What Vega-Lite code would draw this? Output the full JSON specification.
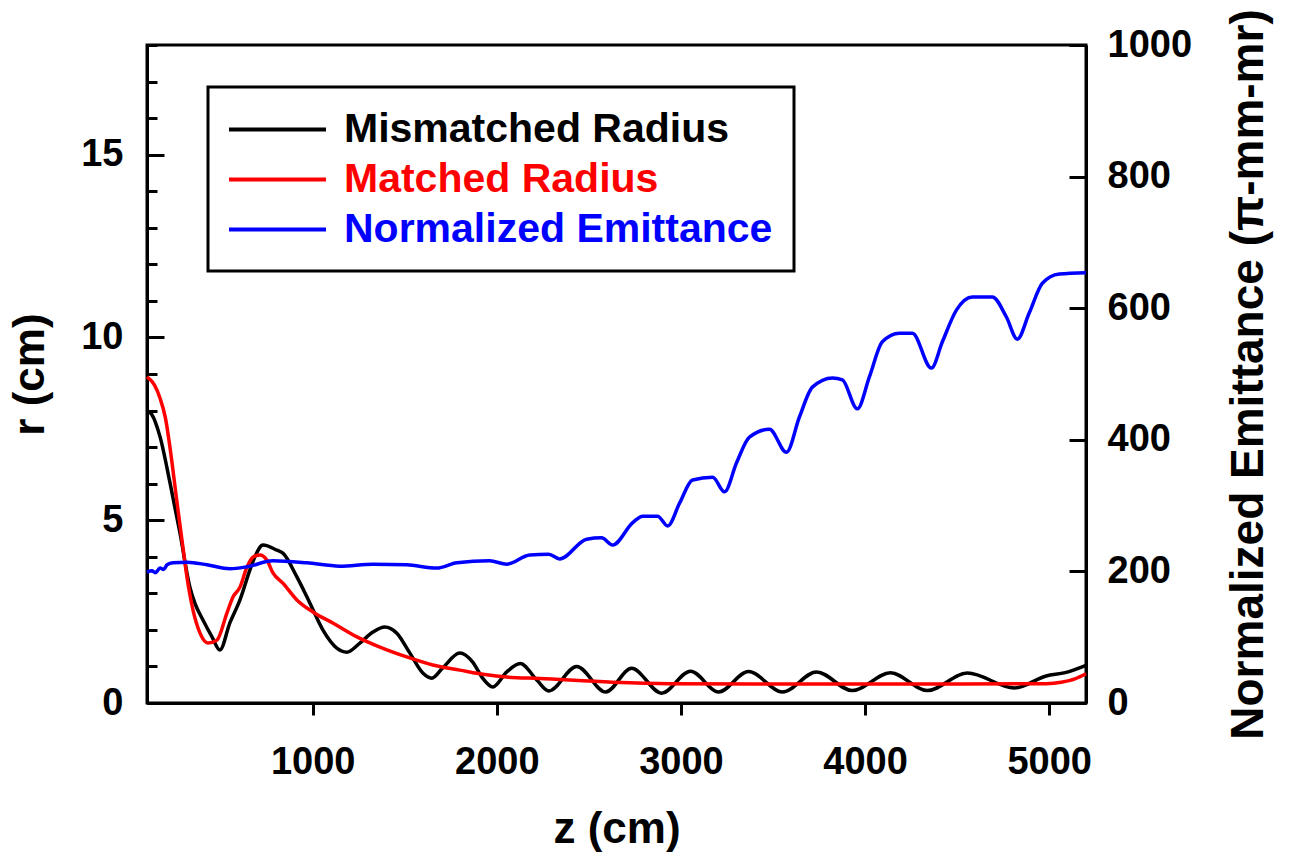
{
  "$schema": "https://vega.github.io/schema/vega-lite/v6.json",
  "autosize": "none",
  "width": 939,
  "height": 658,
  "padding": {"left": 147, "top": 45, "right": 205, "bottom": 154},
  "background": "white",
  "config": {
    "font": "Liberation Sans",
    "view": {"stroke": "black", "strokeWidth": 3},
    "axis": {
      "grid": false,
      "domainColor": "black",
      "domainWidth": 3,
      "tickColor": "black",
      "tickWidth": 3,
      "labelFont": "Liberation Sans",
      "labelFontWeight": "bold",
      "labelFontSize": 38,
      "labelColor": "black",
      "titleFont": "Liberation Sans",
      "titleFontWeight": "bold",
      "titleFontSize": 44,
      "titleColor": "black"
    }
  },
  "data": {
    "values": [
      {"series": "Mismatched Radius", "z": 100, "v": 8.0},
      {"series": "Mismatched Radius", "z": 125, "v": 7.9},
      {"series": "Mismatched Radius", "z": 171, "v": 7.28},
      {"series": "Mismatched Radius", "z": 225, "v": 6.02},
      {"series": "Mismatched Radius", "z": 279, "v": 4.65},
      {"series": "Mismatched Radius", "z": 333, "v": 3.17},
      {"series": "Mismatched Radius", "z": 360, "v": 2.73},
      {"series": "Mismatched Radius", "z": 404, "v": 2.27},
      {"series": "Mismatched Radius", "z": 453, "v": 1.81},
      {"series": "Mismatched Radius", "z": 496, "v": 1.45},
      {"series": "Mismatched Radius", "z": 550, "v": 2.19},
      {"series": "Mismatched Radius", "z": 605, "v": 2.82},
      {"series": "Mismatched Radius", "z": 659, "v": 3.64},
      {"series": "Mismatched Radius", "z": 686, "v": 4.0},
      {"series": "Mismatched Radius", "z": 730, "v": 4.32},
      {"series": "Mismatched Radius", "z": 806, "v": 4.18},
      {"series": "Mismatched Radius", "z": 838, "v": 4.1},
      {"series": "Mismatched Radius", "z": 914, "v": 3.45},
      {"series": "Mismatched Radius", "z": 985, "v": 2.73},
      {"series": "Mismatched Radius", "z": 1055, "v": 2.0},
      {"series": "Mismatched Radius", "z": 1131, "v": 1.5},
      {"series": "Mismatched Radius", "z": 1185, "v": 1.39},
      {"series": "Mismatched Radius", "z": 1256, "v": 1.64},
      {"series": "Mismatched Radius", "z": 1327, "v": 1.94},
      {"series": "Mismatched Radius", "z": 1392, "v": 2.08},
      {"series": "Mismatched Radius", "z": 1457, "v": 1.91},
      {"series": "Mismatched Radius", "z": 1527, "v": 1.37},
      {"series": "Mismatched Radius", "z": 1598, "v": 0.82},
      {"series": "Mismatched Radius", "z": 1647, "v": 0.68},
      {"series": "Mismatched Radius", "z": 1706, "v": 0.96},
      {"series": "Mismatched Radius", "z": 1799, "v": 1.37},
      {"series": "Mismatched Radius", "z": 1869, "v": 1.12},
      {"series": "Mismatched Radius", "z": 1923, "v": 0.68},
      {"series": "Mismatched Radius", "z": 1978, "v": 0.44},
      {"series": "Mismatched Radius", "z": 2054, "v": 0.85},
      {"series": "Mismatched Radius", "z": 2127, "v": 1.08},
      {"series": "Mismatched Radius", "z": 2217, "v": 0.63},
      {"series": "Mismatched Radius", "z": 2282, "v": 0.33},
      {"series": "Mismatched Radius", "z": 2434, "v": 1.0},
      {"series": "Mismatched Radius", "z": 2591, "v": 0.3},
      {"series": "Mismatched Radius", "z": 2732, "v": 0.95},
      {"series": "Mismatched Radius", "z": 2895, "v": 0.27},
      {"series": "Mismatched Radius", "z": 3052, "v": 0.87},
      {"series": "Mismatched Radius", "z": 3204, "v": 0.3},
      {"series": "Mismatched Radius", "z": 3367, "v": 0.86},
      {"series": "Mismatched Radius", "z": 3552, "v": 0.3},
      {"series": "Mismatched Radius", "z": 3736, "v": 0.85},
      {"series": "Mismatched Radius", "z": 3931, "v": 0.34},
      {"series": "Mismatched Radius", "z": 4138, "v": 0.83},
      {"series": "Mismatched Radius", "z": 4338, "v": 0.34},
      {"series": "Mismatched Radius", "z": 4556, "v": 0.82},
      {"series": "Mismatched Radius", "z": 4811, "v": 0.41},
      {"series": "Mismatched Radius", "z": 4984, "v": 0.74},
      {"series": "Mismatched Radius", "z": 5087, "v": 0.83},
      {"series": "Mismatched Radius", "z": 5200, "v": 1.03},

      {"series": "Matched Radius", "z": 100, "v": 8.92},
      {"series": "Matched Radius", "z": 140, "v": 8.7},
      {"series": "Matched Radius", "z": 170, "v": 8.35},
      {"series": "Matched Radius", "z": 200, "v": 7.8},
      {"series": "Matched Radius", "z": 230, "v": 6.8},
      {"series": "Matched Radius", "z": 260, "v": 5.6},
      {"series": "Matched Radius", "z": 290, "v": 4.45},
      {"series": "Matched Radius", "z": 317, "v": 3.45},
      {"series": "Matched Radius", "z": 350, "v": 2.54},
      {"series": "Matched Radius", "z": 388, "v": 1.91},
      {"series": "Matched Radius", "z": 431, "v": 1.64},
      {"series": "Matched Radius", "z": 480, "v": 1.72},
      {"series": "Matched Radius", "z": 534, "v": 2.46},
      {"series": "Matched Radius", "z": 567, "v": 2.9},
      {"series": "Matched Radius", "z": 605, "v": 3.17},
      {"series": "Matched Radius", "z": 643, "v": 3.72},
      {"series": "Matched Radius", "z": 675, "v": 3.99},
      {"series": "Matched Radius", "z": 713, "v": 4.05},
      {"series": "Matched Radius", "z": 751, "v": 3.91},
      {"series": "Matched Radius", "z": 784, "v": 3.56},
      {"series": "Matched Radius", "z": 838, "v": 3.28},
      {"series": "Matched Radius", "z": 914, "v": 2.82},
      {"series": "Matched Radius", "z": 1001, "v": 2.49},
      {"series": "Matched Radius", "z": 1109, "v": 2.19},
      {"series": "Matched Radius", "z": 1240, "v": 1.81},
      {"series": "Matched Radius", "z": 1365, "v": 1.53},
      {"series": "Matched Radius", "z": 1511, "v": 1.26},
      {"series": "Matched Radius", "z": 1652, "v": 1.04},
      {"series": "Matched Radius", "z": 1799, "v": 0.9},
      {"series": "Matched Radius", "z": 1945, "v": 0.77},
      {"series": "Matched Radius", "z": 2054, "v": 0.71},
      {"series": "Matched Radius", "z": 2233, "v": 0.67},
      {"series": "Matched Radius", "z": 2629, "v": 0.57},
      {"series": "Matched Radius", "z": 2938, "v": 0.53},
      {"series": "Matched Radius", "z": 3448, "v": 0.52},
      {"series": "Matched Radius", "z": 3950, "v": 0.52},
      {"series": "Matched Radius", "z": 4500, "v": 0.52},
      {"series": "Matched Radius", "z": 4984, "v": 0.53},
      {"series": "Matched Radius", "z": 5066, "v": 0.57},
      {"series": "Matched Radius", "z": 5140, "v": 0.66},
      {"series": "Matched Radius", "z": 5200, "v": 0.8},

      {"series": "Normalized Emittance", "z": 100, "v": 199},
      {"series": "Normalized Emittance", "z": 127, "v": 201},
      {"series": "Normalized Emittance", "z": 145, "v": 198},
      {"series": "Normalized Emittance", "z": 171, "v": 205},
      {"series": "Normalized Emittance", "z": 190, "v": 203},
      {"series": "Normalized Emittance", "z": 209, "v": 210},
      {"series": "Normalized Emittance", "z": 241, "v": 213},
      {"series": "Normalized Emittance", "z": 317, "v": 214},
      {"series": "Normalized Emittance", "z": 426, "v": 210},
      {"series": "Normalized Emittance", "z": 550, "v": 204},
      {"series": "Normalized Emittance", "z": 643, "v": 207},
      {"series": "Normalized Emittance", "z": 784, "v": 216},
      {"series": "Normalized Emittance", "z": 968, "v": 213},
      {"series": "Normalized Emittance", "z": 1147, "v": 208},
      {"series": "Normalized Emittance", "z": 1327, "v": 211},
      {"series": "Normalized Emittance", "z": 1511, "v": 210},
      {"series": "Normalized Emittance", "z": 1674, "v": 205},
      {"series": "Normalized Emittance", "z": 1783, "v": 213},
      {"series": "Normalized Emittance", "z": 1961, "v": 216},
      {"series": "Normalized Emittance", "z": 2054, "v": 211},
      {"series": "Normalized Emittance", "z": 2179, "v": 225},
      {"series": "Normalized Emittance", "z": 2282, "v": 226},
      {"series": "Normalized Emittance", "z": 2341, "v": 219},
      {"series": "Normalized Emittance", "z": 2488, "v": 249},
      {"series": "Normalized Emittance", "z": 2569, "v": 251},
      {"series": "Normalized Emittance", "z": 2629, "v": 240},
      {"series": "Normalized Emittance", "z": 2738, "v": 274},
      {"series": "Normalized Emittance", "z": 2792, "v": 284},
      {"series": "Normalized Emittance", "z": 2873, "v": 284},
      {"series": "Normalized Emittance", "z": 2928, "v": 269},
      {"series": "Normalized Emittance", "z": 2993, "v": 304},
      {"series": "Normalized Emittance", "z": 3063, "v": 339},
      {"series": "Normalized Emittance", "z": 3172, "v": 343},
      {"series": "Normalized Emittance", "z": 3237, "v": 321},
      {"series": "Normalized Emittance", "z": 3302, "v": 365},
      {"series": "Normalized Emittance", "z": 3372, "v": 404},
      {"series": "Normalized Emittance", "z": 3481, "v": 416},
      {"series": "Normalized Emittance", "z": 3573, "v": 381},
      {"series": "Normalized Emittance", "z": 3644, "v": 435},
      {"series": "Normalized Emittance", "z": 3714, "v": 480},
      {"series": "Normalized Emittance", "z": 3823, "v": 494},
      {"series": "Normalized Emittance", "z": 3877, "v": 491},
      {"series": "Normalized Emittance", "z": 3958, "v": 447},
      {"series": "Normalized Emittance", "z": 4024, "v": 496},
      {"series": "Normalized Emittance", "z": 4094, "v": 549},
      {"series": "Normalized Emittance", "z": 4187, "v": 562},
      {"series": "Normalized Emittance", "z": 4257, "v": 562},
      {"series": "Normalized Emittance", "z": 4360, "v": 509},
      {"series": "Normalized Emittance", "z": 4420, "v": 549},
      {"series": "Normalized Emittance", "z": 4496, "v": 597},
      {"series": "Normalized Emittance", "z": 4583, "v": 617},
      {"series": "Normalized Emittance", "z": 4691, "v": 617},
      {"series": "Normalized Emittance", "z": 4767, "v": 587},
      {"series": "Normalized Emittance", "z": 4827, "v": 553},
      {"series": "Normalized Emittance", "z": 4892, "v": 593},
      {"series": "Normalized Emittance", "z": 4963, "v": 638},
      {"series": "Normalized Emittance", "z": 5055, "v": 652},
      {"series": "Normalized Emittance", "z": 5200, "v": 654}
    ]
  },
  "encoding": {
    "x": {
      "field": "z",
      "type": "quantitative",
      "scale": {"domain": [100, 5200], "nice": false, "zero": false},
      "axis": {
        "orient": "bottom",
        "values": [1000, 2000, 3000, 4000, 5000],
        "format": "d",
        "tickSize": 12,
        "labelPadding": 28,
        "title": "z (cm)",
        "titlePadding": 26
      }
    },
    "color": {
      "field": "series",
      "type": "nominal",
      "scale": {
        "domain": ["Mismatched Radius", "Matched Radius", "Normalized Emittance"],
        "range": ["#000000", "#ff0000", "#0000ff"]
      },
      "legend": {
        "orient": "none",
        "legendX": 61,
        "legendY": 42,
        "title": null,
        "symbolType": "M-2.5,0H2.5",
        "symbolSize": 1505,
        "symbolOffset": 27,
        "symbolStrokeWidth": 4,
        "labelFontSize": 41,
        "labelFont": "Liberation Sans",
        "labelFontWeight": "bold",
        "labelLimit": 0,
        "labelOffset": 45,
        "rowPadding": 8,
        "padding": 21,
        "strokeColor": "black",
        "fillColor": "white",
        "encode": {
          "legend": {"update": {"strokeWidth": {"value": 3}}},
          "labels": {"update": {"fill": {"scale": "color", "field": "value"}}}
        }
      }
    }
  },
  "layer": [
    {
      "transform": [{"filter": "datum.series === 'Mismatched Radius'"}],
      "mark": {"type": "line", "strokeWidth": 3.5, "interpolate": "monotone"},
      "encoding": {
        "y": {
          "field": "v",
          "type": "quantitative",
          "scale": {"domain": [0, 18], "nice": false},
          "axis": {
            "orient": "left",
            "values": [0,1,2,3,4,5,6,7,8,9,10,11,12,13,14,15,16,17,18],
            "tickSize": -10,
            "labels": false,
            "title": null
          }
        }
      }
    },
    {
      "transform": [{"filter": "datum.series === 'Matched Radius'"}],
      "mark": {"type": "line", "strokeWidth": 3.5, "interpolate": "monotone"},
      "encoding": {
        "y": {
          "field": "v",
          "type": "quantitative",
          "scale": {"domain": [0, 18], "nice": false},
          "axis": {
            "orient": "left",
            "values": [0, 5, 10, 15],
            "format": "d",
            "tickSize": -17,
            "labelPadding": 41,
            "title": "r (cm)",
            "titlePadding": 28
          }
        }
      }
    },
    {
      "transform": [{"filter": "datum.series === 'Normalized Emittance'"}],
      "mark": {"type": "line", "strokeWidth": 3.5, "interpolate": "monotone"},
      "encoding": {
        "y": {
          "field": "v",
          "type": "quantitative",
          "scale": {"domain": [0, 1000], "nice": false},
          "axis": {
            "orient": "right",
            "values": [0, 200, 400, 600, 800, 1000],
            "format": "d",
            "tickSize": -17,
            "labelPadding": 38,
            "title": "Normalized Emittance (π-mm-mr)",
            "titleFontSize": 46,
            "titleAngle": -90,
            "titleBaseline": "top",
            "titlePadding": 35
          }
        }
      }
    }
  ],
  "resolve": {"scale": {"y": "independent"}, "axis": {"y": "independent"}}
}
